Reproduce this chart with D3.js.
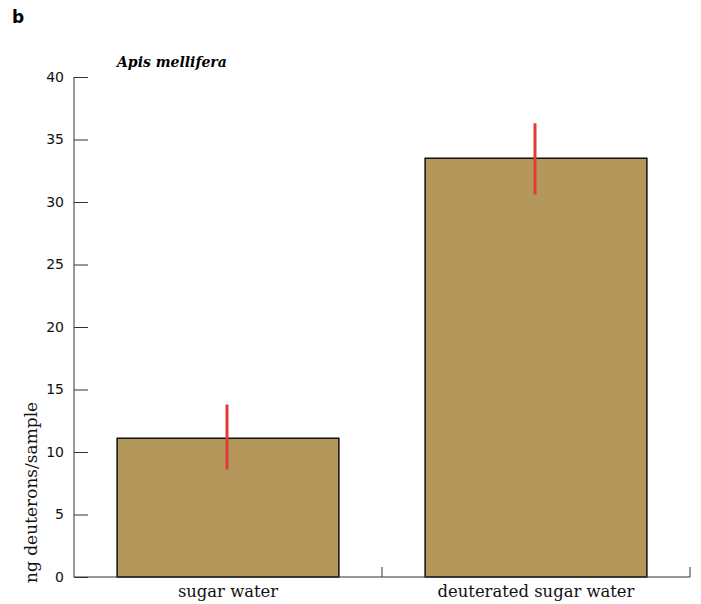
<!DOCTYPE html>
<html>
<head>
<meta charset="utf-8">
<script src="https://cdn.jsdelivr.net/npm/d3@7"></script>
<style>
  body { margin: 0; background: #fff; }
</style>
</head>
<body>
<div id="chart"></div>
<script>
// data
var categories = ["sugar water", "deuterated sugar water"];
var means = [11.1, 33.5];
var errLow = [8.6, 30.6];
var errHigh = [13.8, 36.3];
var yTicks = [0, 5, 10, 15, 20, 25, 30, 35, 40];

var width = 701;
var height = 604;
var m = { left: 74, right: 690, top: 77, bottom: 577 };

var svg = d3.select("#chart").append("svg")
    .attr("width", width)
    .attr("height", height);

var x = d3.scaleBand()
    .domain(categories)
    .range([m.left, m.right])
    .padding(0);

var y = d3.scaleLinear()
    .domain([0, 40])
    .range([m.bottom, m.top]);

var barW = x.bandwidth() * 0.72;

// panel letter
svg.append("text")
    .attr("x", 12)
    .attr("y", 23)
    .style("font-family", "'DejaVu Sans', sans-serif")
    .style("font-weight", "bold")
    .style("font-size", "17px")
    .text("b");

// title
svg.append("text")
    .attr("x", 117)
    .attr("y", 67)
    .style("font-family", "'DejaVu Serif', serif")
    .style("font-style", "italic")
    .style("font-weight", "bold")
    .style("font-size", "14px")
    .text("Apis mellifera");

// bars
svg.selectAll("rect.bar")
    .data(categories)
    .enter().append("rect")
    .attr("class", "bar")
    .attr("x", function (d) { return x(d) + (x.bandwidth() - barW) / 2; })
    .attr("y", function (d, i) { return y(means[i]); })
    .attr("width", barW)
    .attr("height", function (d, i) { return y(0) - y(means[i]); })
    .style("fill", "#b4975b")
    .style("stroke", "#111")
    .style("stroke-width", 1.5);

// error bars
svg.selectAll("line.err")
    .data(categories)
    .enter().append("line")
    .attr("class", "err")
    .attr("x1", function (d) { return x(d) + x.bandwidth() / 2 - 1; })
    .attr("x2", function (d) { return x(d) + x.bandwidth() / 2 - 1; })
    .attr("y1", function (d, i) { return y(errHigh[i]); })
    .attr("y2", function (d, i) { return y(errLow[i]); })
    .style("stroke", "#e03a3a")
    .style("stroke-width", 3);

// y axis
var yAxis = d3.axisLeft(y)
    .tickValues(yTicks)
    .tickSize(-14)
    .tickPadding(10);

var gy = svg.append("g")
    .attr("transform", "translate(" + m.left + ",0)")
    .call(yAxis);
gy.select(".domain").attr("d", "M0," + m.top + "V" + m.bottom).style("stroke", "#333");
gy.selectAll(".tick line").style("stroke", "#333");
gy.selectAll(".tick text")
    .style("font-family", "'DejaVu Sans', sans-serif")
    .style("font-size", "14px")
    .style("fill", "#111");

// x axis: ticks at the band edges
svg.append("line")
    .attr("x1", m.left).attr("x2", m.right)
    .attr("y1", m.bottom).attr("y2", m.bottom)
    .style("stroke", "#333");

svg.selectAll("line.xtick")
    .data(categories)
    .enter().append("line")
    .attr("class", "xtick")
    .attr("x1", function (d) { return x(d) + x.bandwidth(); })
    .attr("x2", function (d) { return x(d) + x.bandwidth(); })
    .attr("y1", m.bottom)
    .attr("y2", m.bottom - 10)
    .style("stroke", "#333");

svg.selectAll("text.xlab")
    .data(categories)
    .enter().append("text")
    .attr("class", "xlab")
    .attr("x", function (d) { return x(d) + x.bandwidth() / 2; })
    .attr("y", 597)
    .attr("text-anchor", "middle")
    .style("font-family", "'DejaVu Serif', serif")
    .style("font-size", "16.4px")
    .style("fill", "#111")
    .text(function (d) { return d; });

// y label
svg.append("text")
    .attr("transform", "translate(37,583) rotate(-90)")
    .attr("text-anchor", "start")
    .style("font-family", "'DejaVu Serif', serif")
    .style("font-size", "17px")
    .style("fill", "#111")
    .text("ng deuterons/sample");
</script>
</body>
</html>
